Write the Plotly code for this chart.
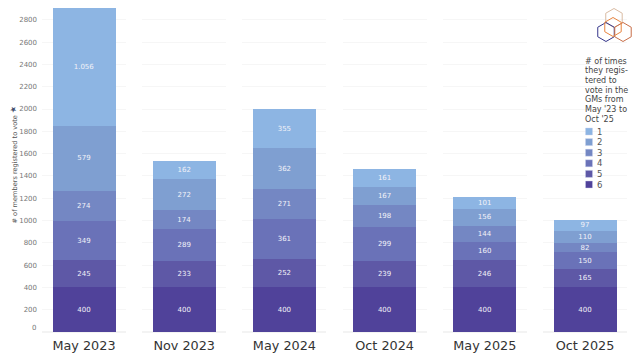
import plotly.graph_objects as go

months = ["May 2023", "Nov 2023", "May 2024", "Oct 2024", "May 2025", "Oct 2025"]
times_6 = [400, 400, 400, 400, 400, 400]
times_5 = [245, 233, 252, 239, 246, 165]
times_4 = [349, 289, 361, 299, 160, 150]
times_3 = [274, 174, 271, 198, 144, 82]
times_2 = [579, 272, 362, 167, 156, 110]
times_1 = [1056, 162, 355, 161, 101, 97]
labels_1 = ["1.056", "162", "355", "161", "101", "97"]
tick_vals = list(range(200, 3000, 200))
legend_names = ["1", "2", "3", "4", "5", "6"]
legend_title = ["# of times", "they regis-", "tered to", "vote in the", "GMs from", "May '23 to", "Oct '25"]
axis_title = "# of members registered to vote"

W, H = 640, 360
L, R, T, B = 42, 627, 5, 332
colors = {"6": "#50429A", "5": "#5E58A6", "4": "#6A72B8", "3": "#7487C3", "2": "#7F9FD1", "1": "#8DB5E3"}
series = [("6", times_6, None), ("5", times_5, None), ("4", times_4, None),
          ("3", times_3, None), ("2", times_2, None), ("1", times_1, labels_1)]
panel_w = 84
period = 100.2


def px(x):
    return (x - L) / (R - L)


def py(y):
    return (B - y) / (B - T)


fig = go.Figure()
for i, m in enumerate(months):
    ax = "" if i == 0 else str(i + 1)
    x0 = i * period / (R - L)
    x1 = (i * period + panel_w) / (R - L)
    fig.update_layout({
        f"xaxis{ax}": dict(domain=[x0, min(x1, 1)], anchor="y", type="category", showgrid=False,
                           zeroline=False, showline=False, ticks="", range=[-0.5, 0.5], ticklabelstandoff=4,
                           tickfont=dict(family="DejaVu Sans", size=12.8, color="#333333"))
    })
    for name, vals, txt in series:
        fig.add_trace(go.Bar(
            x=[m], y=[vals[i]], name=name, showlegend=False,
            xaxis=f"x{ax}", yaxis="y", width=0.75,
            marker=dict(color=colors[name], line=dict(width=0)),
            text=[txt[i] if txt else str(vals[i])], textposition="inside", insidetextanchor="middle",
            textangle=0, constraintext="none",
            insidetextfont=dict(family="DejaVu Sans", size=7, color="#F2F2F8"),
            hoverinfo="skip"))


def note(text, x, y, size, color, xanchor="center", yanchor="middle", angle=0, align="left"):
    return dict(text=text, x=px(x), y=py(y), xref="paper", yref="paper", xanchor=xanchor, yanchor=yanchor,
                textangle=angle, align=align, showarrow=False, borderpad=0,
                font=dict(family="DejaVu Sans", size=size, color=color))


anns = [
    note("0", 37, 328, 7, "#777777", xanchor="right"),
    note(axis_title, 14, 169.5, 6.6, "#555555", angle=-90),
    note("★", 13.5, 110, 8, "#46506E", angle=-30),
]
for k, line in enumerate(legend_title):
    anns.append(note(line, 584, 61 + k * 9.67, 8, "#444444", xanchor="left"))


def hexagon(cx, cy, r):
    h = r * 0.866
    pts = [(cx, cy - r), (cx + h, cy - r / 2), (cx + h, cy + r / 2), (cx, cy + r), (cx - h, cy + r / 2), (cx - h, cy - r / 2)]
    return "M " + " L ".join(f"{px(x):.4f},{py(y):.4f}" for x, y in pts) + " Z"


shapes = []
for cx, cy, col in [(614, 18, "#D9BBA3"), (606, 32, "#34358A"), (623, 32, "#C86E48"), (613, 27, "#E8843F")]:
    shapes.append(dict(type="path", xref="paper", yref="paper", path=hexagon(cx, cy, 9.5), line=dict(color=col, width=1)))

for k, name in enumerate(legend_names):
    yc = 131.5 + k * 10.6
    shapes.append(dict(type="rect", xref="paper", yref="paper", x0=px(585.5), x1=px(592.5), y0=py(yc - 3.5), y1=py(yc + 3.5),
                       fillcolor=colors[name], line=dict(color="rgba(205,212,240,0.8)", width=0.5)))
    anns.append(note(name, 596, yc, 8.5, "#555555", xanchor="left"))

fig.update_layout(
    width=W, height=H, barmode="stack", plot_bgcolor="white", paper_bgcolor="white",
    margin=dict(l=L, r=W - R, t=T, b=H - B, pad=0), autosize=False, showlegend=False,
    yaxis=dict(range=[0, (B - T) / 0.1115], tickvals=tick_vals, showgrid=True, gridcolor="#F6F6F6", gridwidth=1,
               zeroline=True, zerolinecolor="#F3F3F3", showline=False, ticks="", ticklabelstandoff=4,
               tickfont=dict(family="DejaVu Sans", size=7, color="#777777")),
    annotations=anns, shapes=shapes,
)
fig.write_html("out.html", config={"displayModeBar": False}, post_script="document.body.style.margin='0';")
